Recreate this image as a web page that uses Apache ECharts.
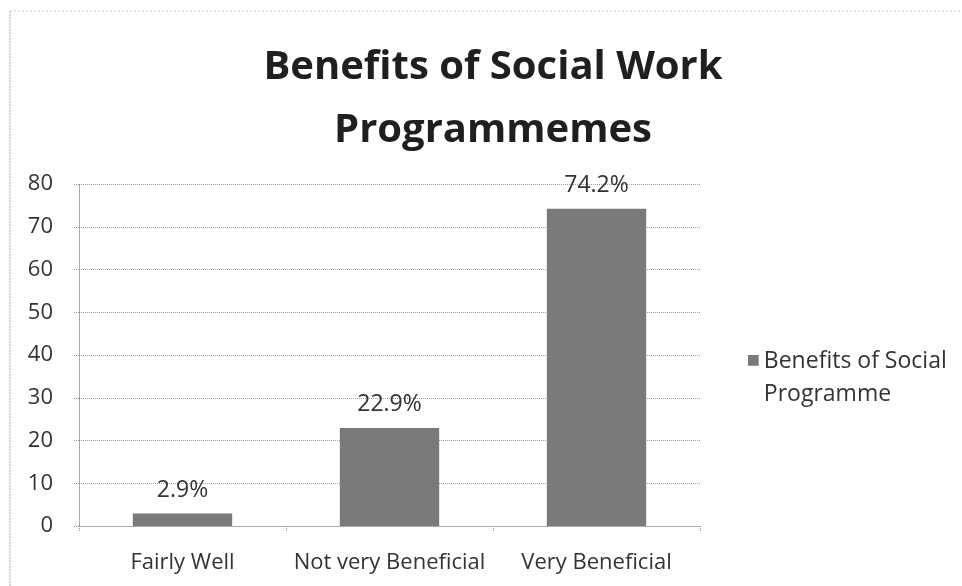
<!DOCTYPE html>
<html>
<head>
<meta charset="utf-8">
<script src="https://cdn.jsdelivr.net/npm/echarts@6/dist/echarts.min.js"></script>
<style>
  html, body { margin: 0; padding: 0; background: #ffffff; }
  #chart { width: 962px; height: 586px; }
</style>
</head>
<body>
<div id="chart"></div>
<script>
// Survey responses on how beneficial social work programmes are (percent)
const categories = ['Fairly Well', 'Not very Beneficial', 'Very Beneficial'];
const values = [2.9, 22.9, 74.2];
const seriesName = 'Benefits of Social\nProgramme';
const yTicks = [0, 10, 20, 30, 40, 50, 60, 70, 80];

const FONT = '"Open Sans", "Noto Sans", sans-serif';
const chart = echarts.init(document.getElementById('chart'), null, { renderer: 'canvas' });

// Legend swatch: a square at the top of a tall box so it lines up with the first text line
const legendIcon = 'path://M0,0h10v10h-10z M0,43h0.01v0.01h-0.01z';

chart.setOption({
  backgroundColor: '#ffffff',
  animation: false,
  title: {
    text: 'Benefits of Social Work\nProgrammemes',
    left: 488,
    textAlign: 'center',
    top: 31,
    textStyle: {
      fontFamily: FONT,
      fontWeight: 'bold',
      fontSize: 40,
      lineHeight: 63,
      color: '#1f1f1f'
    }
  },
  legend: {
    show: true,
    left: 743,
    top: 340,
    orient: 'vertical',
    itemWidth: 11,
    itemHeight: 46,
    icon: legendIcon,
    textStyle: {
      fontFamily: FONT,
      fontSize: 23,
      lineHeight: 33,
      color: '#333333'
    },
    data: [seriesName]
  },
  grid: {
    left: 79,
    right: 262,
    top: 184,
    bottom: 60,
    containLabel: false
  },
  xAxis: {
    type: 'category',
    data: categories,
    axisLine: { show: true, lineStyle: { color: '#999999', type: 'dotted', width: 1 } },
    axisTick: { show: true, length: 5, lineStyle: { color: '#999999', type: 'dotted' } },
    axisLabel: {
      interval: 0,
      hideOverlap: false,
      fontFamily: FONT,
      fontSize: 22,
      color: '#333333',
      margin: 26
    }
  },
  yAxis: {
    type: 'value',
    min: yTicks[0],
    max: yTicks[yTicks.length - 1],
    interval: 10,
    axisLine: { show: true, lineStyle: { color: '#999999', type: 'dotted', width: 1 } },
    axisTick: { show: true, length: 5, lineStyle: { color: '#999999', type: 'dotted' } },
    splitLine: { show: true, lineStyle: { color: '#a0a0a0', type: 'dotted', width: 1 } },
    axisLabel: {
      fontFamily: FONT,
      fontSize: 22,
      color: '#333333',
      margin: 26
    }
  },
  series: [{
    name: seriesName,
    type: 'bar',
    data: values,
    barWidth: '48%',
    itemStyle: { color: '#7a7a7a' },
    label: {
      show: true,
      position: 'top',
      distance: 12,
      formatter: p => p.value.toFixed(1) + '%',
      fontFamily: FONT,
      fontSize: 23,
      color: '#333333'
    }
  }],
  graphic: [
    {
      type: 'line',
      shape: { x1: 10, y1: 11, x2: 10, y2: 586 },
      style: { stroke: '#b0b0b0', lineWidth: 1, lineDash: [2, 1] }
    },
    {
      type: 'line',
      shape: { x1: 10, y1: 11, x2: 962, y2: 11 },
      style: { stroke: '#c8c8c8', lineWidth: 1, lineDash: [2, 2] }
    }
  ]
});
</script>
</body>
</html>
